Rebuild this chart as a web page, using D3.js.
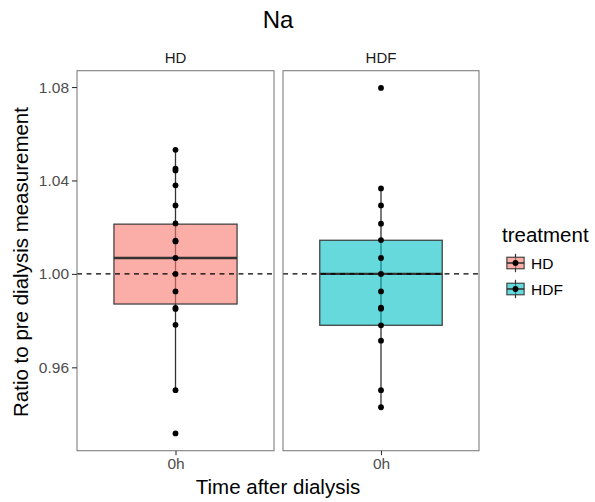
<!DOCTYPE html>
<html><head><meta charset="utf-8">
<script src="https://cdn.jsdelivr.net/npm/d3@7"></script>
<style>body{margin:0;background:#fff}svg{display:block;font-family:"Liberation Sans",Arial,sans-serif}</style>
</head><body><svg id="c" width="595" height="502"></svg>
<script>
const treatments = ["HD", "HDF"];
const timeLabels = ["0h"];
const yTicks = [0.96, 1.00, 1.04, 1.08];
const fills = ["#F8766D", "#00BFC4"];
// individual ratios
const hdValues = [1.0531, 1.0451, 1.0443, 1.0379, 1.0293, 1.0216, 1.0142, 1.0139, 1.0068, 1.0000, 0.9925, 0.9854, 0.9850, 0.9782, 0.9502, 0.9317];
const hdfValues = [1.0796, 1.0366, 1.0293, 1.0215, 1.0145, 1.0068, 1.0000, 0.9925, 0.9856, 0.9851, 0.9780, 0.9714, 0.9502, 0.9429];
// box statistics [lower whisker, Q1, median, Q3, upper whisker]
const hdBox = [0.9502, 0.9871, 1.0068, 1.0213, 1.0531];
const hdfBox = [0.9429, 0.9780, 1.0000, 1.0144, 1.0366];
const refLine = 1.00;

const FONT = "Liberation Sans, Arial, sans-serif";
const svg = d3.select("#c");
const panels = [{name:"HD", vals:hdValues, box:hdBox, fill:fills[0], x0:77, x1:274},
                {name:"HDF", vals:hdfValues, box:hdfBox, fill:fills[1], x0:283, x1:479}];
const pTop = 70.7, pBottom = 450.7;
const all = hdValues.concat(hdfValues);
const ext = d3.extent(all), pad = (ext[1]-ext[0])*0.05;
const y = d3.scaleLinear().domain([ext[0]-pad, ext[1]+pad]).range([pBottom, pTop]);

svg.append("rect").attr("width",595).attr("height",502).attr("fill","#fff");

panels.forEach((p,i)=>{
  const xp = d3.scalePoint().domain(timeLabels).range([p.x0,p.x1]).padding(0.5);
  const bw = (p.x1-p.x0)*0.75/1.2;
  const g = svg.append("g");
  const cx = xp("0h");
  const b = p.box;
  g.append("line").attr("x1",cx).attr("x2",cx).attr("y1",y(b[0])).attr("y2",y(b[4]))
    .attr("stroke","#333").attr("stroke-width",1.3);
  g.append("rect").attr("x",cx-bw/2).attr("width",bw).attr("y",y(b[3])).attr("height",y(b[1])-y(b[3]))
    .attr("fill",p.fill).attr("fill-opacity",0.6).attr("stroke","#333").attr("stroke-opacity",0.9).attr("stroke-width",1.3);
  g.append("line").attr("x1",cx-bw/2).attr("x2",cx+bw/2).attr("y1",y(b[2])).attr("y2",y(b[2]))
    .attr("stroke","#333").attr("stroke-width",2.4);
  g.append("line").attr("x1",p.x0).attr("x2",p.x1).attr("y1",y(refLine)).attr("y2",y(refLine))
    .attr("stroke","#000").attr("stroke-width",1.2).attr("stroke-dasharray","5,4.5");
  g.selectAll("circle.pt").data(p.vals).join("circle").attr("class","pt")
    .attr("cx",cx).attr("cy",d=>y(d)).attr("r",2.9).attr("fill","#000");
  g.append("rect").attr("x",p.x0).attr("y",pTop).attr("width",p.x1-p.x0).attr("height",pBottom-pTop)
    .attr("fill","none").attr("stroke","#7f7f7f").attr("stroke-width",1.1);
  svg.append("text").attr("x",(p.x0+p.x1)/2).attr("y",62.5).attr("text-anchor","middle")
    .attr("font-size",15).attr("fill","#1a1a1a").text(p.name);
  const ax = svg.append("g").attr("transform",`translate(0,${pBottom})`).call(d3.axisBottom(xp).tickSize(4.5).tickPadding(3));
  ax.select(".domain").remove();
  ax.selectAll(".tick line").attr("stroke","#333").attr("stroke-width",1.1);
  ax.selectAll(".tick text").attr("font-size",15.5).attr("fill","#4d4d4d").attr("font-family",FONT);
});

const ay = svg.append("g").attr("transform",`translate(${panels[0].x0},0)`)
  .call(d3.axisLeft(y).tickValues(yTicks).tickFormat(d3.format(".2f")).tickSize(5).tickPadding(3));
ay.select(".domain").remove();
ay.selectAll(".tick line").attr("stroke","#333").attr("stroke-width",1.1);
ay.selectAll(".tick text").attr("font-size",15.5).attr("fill","#4d4d4d").attr("font-family",FONT);

svg.append("text").attr("x",278).attr("y",28.3).attr("text-anchor","middle").attr("font-size",24).attr("fill","#000").text("Na");
svg.append("text").attr("x",278).attr("y",493.5).attr("text-anchor","middle").attr("font-size",20.5).attr("fill","#000").text("Time after dialysis");
svg.append("text").attr("transform","translate(28,262) rotate(-90)").attr("text-anchor","middle").attr("font-size",20.5).attr("fill","#000").text("Ratio to pre dialysis measurement");

const lg = svg.append("g");
lg.append("text").attr("x",502).attr("y",241.5).attr("font-size",20.5).attr("fill","#000").text("treatment");
treatments.forEach((t,i)=>{
  const ks = 23, kx = 504, ky = 251.5 + i*26;
  const k = lg.append("g");
  k.append("line").attr("x1",kx+ks/2).attr("x2",kx+ks/2).attr("y1",ky+ks*0.1).attr("y2",ky+ks*0.9)
    .attr("stroke","#333").attr("stroke-width",1.2);
  k.append("rect").attr("x",kx+ks*0.125).attr("y",ky+ks*0.25).attr("width",ks*0.75).attr("height",ks*0.5)
    .attr("fill",fills[i]).attr("fill-opacity",0.6).attr("stroke","#333").attr("stroke-opacity",0.9).attr("stroke-width",1.2);
  k.append("line").attr("x1",kx+ks*0.125).attr("x2",kx+ks*0.875).attr("y1",ky+ks/2).attr("y2",ky+ks/2)
    .attr("stroke","#333").attr("stroke-width",1.6);
  k.append("circle").attr("cx",kx+ks/2).attr("cy",ky+ks/2).attr("r",2.9).attr("fill","#000");
  lg.append("text").attr("x",531).attr("y",ky+ks/2+5.5).attr("font-size",15.5).attr("fill","#000").text(t);
});
</script></body></html>
